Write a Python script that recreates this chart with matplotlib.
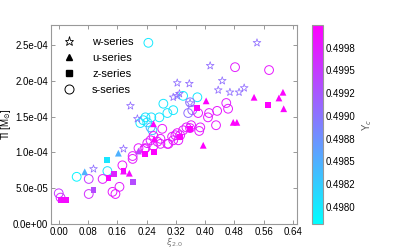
import numpy as np
import matplotlib
matplotlib.use("Agg")
from matplotlib import pyplot as plt
from matplotlib.colors import Normalize
from matplotlib.lines import Line2D

plt.rcParams['font.family'] = ['Liberation Sans', 'DejaVu Sans']

# w-series (stars)
w_xi = [0.196, 0.215, 0.095, 0.177, 0.324, 0.357, 0.324, 0.313, 0.330, 0.359,
        0.414, 0.447, 0.436, 0.468, 0.493, 0.507, 0.542]
w_tl = [1.65, 1.47, 0.77, 1.05, 1.97, 1.96, 1.79, 1.77, 1.82, 1.69,
        2.21, 2.00, 1.87, 1.84, 1.84, 1.90, 2.53]
w_yc = [0.49906, 0.49905, 0.49904, 0.49906, 0.49905, 0.49906, 0.49905, 0.49904, 0.49906, 0.49905,
        0.49906, 0.49905, 0.49906, 0.49905, 0.49904, 0.49906, 0.49905]

# u-series (triangles)
u_xi = [0.071, 0.163, 0.177, 0.193, 0.218, 0.259, 0.261, 0.395, 0.403, 0.477,
        0.487, 0.534, 0.602, 0.613, 0.615]
u_tl = [0.73, 0.99, 0.74, 0.71, 1.02, 1.40, 1.19, 1.10, 1.72, 1.42,
        1.42, 1.77, 1.76, 1.84, 1.61]
u_yc = [0.49847, 0.49848, 0.49990, 0.49992, 0.49945, 0.49998, 0.49998, 0.49999, 0.49999, 0.49999,
        0.49999, 0.49999, 0.49998, 0.49996, 0.49995]

# z-series (squares)
z_xi = [0.005, 0.014, 0.019, 0.095, 0.133, 0.136, 0.150, 0.177, 0.204, 0.237,
        0.261, 0.332, 0.359, 0.379, 0.572]
z_tl = [0.34, 0.34, 0.34, 0.47, 0.89, 0.64, 0.70, 0.74, 0.59, 0.98,
        1.01, 1.22, 1.33, 1.62, 1.66]
z_yc = [0.49985, 0.49993, 0.49990, 0.49935, 0.49803, 0.49998, 0.49970, 0.49998, 0.49935, 0.49999,
        0.49999, 0.49999, 0.49999, 0.49999, 0.49999]

# s-series (circles)
s_xi = [0.245, 0.049, 0.133, 0.231, 0.242, 0.256, 0.223, 0.237, 0.253, 0.275,
        0.297, 0.313, 0.286, 0.340, 0.379, 0.251,
        0.359, 0.365, 0.354,
        0.482, 0.575, 0.458, 0.463, 0.433, 0.411, 0.408, 0.381, 0.362, 0.384,
        0.359, 0.387, 0.430, 0.283, 0.278, 0.297, 0.324, 0.332, 0.310, 0.313,
        0.327, 0.319, 0.259, 0.251, 0.237, 0.259, 0.278, 0.218, 0.234, 0.242,
        0.270, 0.300, 0.202, 0.202, 0.174, 0.166, 0.147, 0.155, 0.082, 0.082,
        0.120, 0.000, 0.005, 0.340, 0.349]
s_tl = [2.53, 0.66, 0.74, 1.45, 1.42, 1.31, 1.41, 1.49, 1.49, 1.49,
        1.55, 1.59, 1.68, 1.79, 1.77, 1.35,
        1.70, 1.59, 1.55,
        2.19, 2.15, 1.69, 1.61, 1.58, 1.55, 1.49, 1.55, 1.38, 1.30,
        1.34, 1.35, 1.38, 1.33, 1.19, 1.12, 1.27, 1.24, 1.22, 1.17,
        1.17, 1.24, 1.23, 1.17, 1.06, 1.09, 1.12, 1.06, 1.05, 1.13,
        1.15, 1.12, 0.95, 0.91, 0.82, 0.52, 0.45, 0.42, 0.42, 0.63,
        0.63, 0.43, 0.37, 1.31, 1.35]
s_yc = [0.49800, 0.49790, 0.49805, 0.49800, 0.49802, 0.49830, 0.49800, 0.49805, 0.49810, 0.49800,
        0.49805, 0.49800, 0.49803, 0.49800, 0.49802, 0.49850,
        0.49900, 0.49910, 0.49905,
        0.49975, 0.49980, 0.49975, 0.49978, 0.49980, 0.49975, 0.49978, 0.49980, 0.49975, 0.49978,
        0.49980, 0.49975, 0.49978, 0.49980, 0.49975, 0.49978, 0.49980, 0.49975, 0.49978, 0.49980,
        0.49975, 0.49978, 0.49980, 0.49975, 0.49978, 0.49980, 0.49975, 0.49978, 0.49980, 0.49975,
        0.49978, 0.49980, 0.49975, 0.49978, 0.49980, 0.49975, 0.49978, 0.49980, 0.49960, 0.49950,
        0.49975, 0.49950, 0.49960, 0.49980, 0.49975]

cbar_ticks = [0.4980, 0.49825, 0.4985, 0.49875, 0.4990, 0.49925, 0.4995, 0.49975]
cbar_labels = ['0.4980', '0.4982', '0.4985', '0.4988', '0.4990', '0.4992', '0.4995', '0.4998']
x_ticks = [0.00, 0.08, 0.16, 0.24, 0.32, 0.40, 0.48, 0.56, 0.64]
y_ticks = [0.0, 0.5e-4, 1.0e-4, 1.5e-4, 2.0e-4, 2.5e-4]

cmap = plt.get_cmap('cool')
norm = Normalize(vmin=0.49781, vmax=0.50000)

fig = plt.figure(figsize=(3.99, 2.49), dpi=100)
ax = fig.add_axes([0.128, 0.100, 0.616, 0.800])
cax = fig.add_axes([0.782, 0.100, 0.028, 0.800])

def tl(vals):
    return np.array(vals) * 1e-4

ax.scatter(s_xi, tl(s_tl), s=40, marker='o', facecolors='none',
           edgecolors=cmap(norm(s_yc)), linewidths=0.7)
ax.scatter(w_xi, tl(w_tl), s=34, marker='*', facecolors='none',
           edgecolors=cmap(norm(w_yc)), linewidths=0.55)
ax.scatter(z_xi, tl(z_tl), s=18, marker='s', c=cmap(norm(z_yc)), linewidths=0)
ax.scatter(u_xi, tl(u_tl), s=24, marker='^', c=cmap(norm(u_yc)), linewidths=0)

ax.set_xlim(-0.021, 0.651)
ax.set_ylim(0, 2.78e-4)
ax.set_xticks(x_ticks)
ax.set_xticklabels([f'{v:.2f}' for v in x_ticks])
ax.set_yticks(y_ticks)
ax.set_yticklabels([f'{v:.1e}' for v in y_ticks])
ax.tick_params(direction='in', top=True, right=True, labelsize=7,
               length=3, width=0.6, color='#888888', pad=2)
for sp in ax.spines.values():
    sp.set_color('#999999')
    sp.set_linewidth(0.8)

ax.set_xlabel(r'$\xi_{2.0}$', fontsize=6.5, color='#777777')
ax.xaxis.set_label_coords(0.5, -0.06)
ax.set_ylabel(r'Tl [M$_{\odot}$]', fontsize=7)
ax.yaxis.set_label_coords(-0.155, 0.5)

handles = [
    Line2D([], [], marker='*', ls='none', mfc='none', mec='black', ms=6.5, mew=0.6),
    Line2D([], [], marker='^', ls='none', mfc='black', mec='black', ms=5),
    Line2D([], [], marker='s', ls='none', mfc='black', mec='black', ms=4.5),
    Line2D([], [], marker='o', ls='none', mfc='none', mec='black', ms=6.5, mew=0.7),
]
ax.legend(handles, ['w-series', 'u-series', 'z-series', 's-series'], loc='upper left',
          frameon=False, fontsize=8, handletextpad=1.3, labelspacing=0.55,
          handlelength=1.6, borderaxespad=0.4, bbox_to_anchor=(0.0, 0.985))

sm = plt.cm.ScalarMappable(norm=norm, cmap=cmap)
cb = fig.colorbar(sm, cax=cax)
cb.set_ticks(cbar_ticks)
cb.set_ticklabels(cbar_labels)
cb.ax.tick_params(labelsize=7, length=0, pad=2)
cb.outline.set_edgecolor('#999999')
cb.outline.set_linewidth(0.8)
cb.set_label(r'Y$_c$', fontsize=7, color='#555555', labelpad=3)

fig.savefig('out.png', dpi=100)
plt.close(fig)
